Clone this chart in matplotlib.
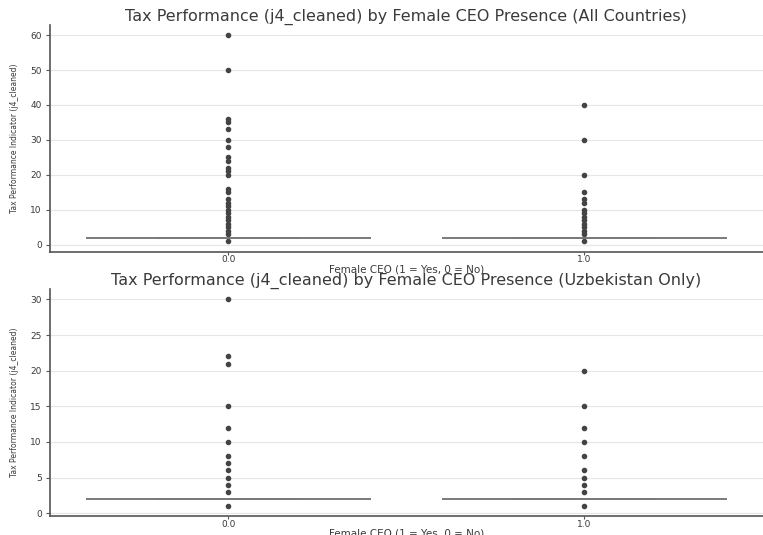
import matplotlib
matplotlib.use("Agg")
import matplotlib.pyplot as plt

# ---------- data ----------
ceo_labels = ["0.0", "1.0"]

# all countries: median / quartiles sit at 2, everything else is an outlier
all_median = [2, 2]
all_fliers_no = [60, 50, 36, 35, 33, 30, 28, 25, 24, 22, 21, 20, 16, 15,
                 13, 12, 11, 10, 9, 8, 7, 6, 5, 4, 3, 1]
all_fliers_yes = [40, 30, 20, 15, 13, 12, 10, 9, 8, 7, 6, 5, 4, 3, 1]

# Uzbekistan only
uz_median = [2, 2]
uz_fliers_no = [30, 22, 21, 15, 12, 10, 8, 7, 6, 5, 4, 3, 1]
uz_fliers_yes = [20, 15, 12, 10, 8, 6, 5, 4, 3, 1]

plt.rcParams["font.family"] = ["DejaVu Sans"]
text_col = "#3a3a3a"


def box_stats(median, fliers):
    return {"med": median, "q1": median, "q3": median,
            "whislo": median, "whishi": median, "fliers": fliers}


def draw(ax, medians, fliers, title):
    stats = [box_stats(m, f) for m, f in zip(medians, fliers)]
    ax.bxp(stats, positions=[0, 1], widths=0.8, patch_artist=True,
           boxprops=dict(facecolor="none", edgecolor="#7a7a7a", linewidth=1.2),
           medianprops=dict(color="#7a7a7a", linewidth=1.2),
           whiskerprops=dict(color="#7a7a7a", linewidth=1.2),
           capprops=dict(color="#7a7a7a", linewidth=1.2),
           flierprops=dict(marker="o", markersize=3.0, markerfacecolor="#444444",
                           markeredgecolor="#444444", linestyle="none"))
    ax.set_xlim(-0.5, 1.5)
    ax.set_xticks([0, 1])
    ax.set_xticklabels(ceo_labels)
    ax.set_title(title, fontsize=11.5, color=text_col, pad=0)
    ax.set_xlabel("Female CEO (1 = Yes, 0 = No)", fontsize=7.5, color=text_col, labelpad=0)
    ax.set_ylabel("Tax Performance Indicator (j4_cleaned)", fontsize=5.5,
                  color=text_col, labelpad=8)
    ax.grid(axis="y", color="#e6e6e6", linewidth=0.8)
    ax.set_axisbelow(True)
    for s in ["top", "right"]:
        ax.spines[s].set_visible(False)
    for s in ["left", "bottom"]:
        ax.spines[s].set_color("#555555")
        ax.spines[s].set_linewidth(1.2)
    ax.tick_params(axis="y", labelsize=6.5, colors="#555555", length=3,
                   labelcolor=text_col, pad=3)
    ax.tick_params(axis="x", labelsize=6.5, colors="#555555", length=2,
                   labelcolor=text_col, pad=0.5)
    ax.margins(y=0.05)


fig = plt.figure(figsize=(7.63, 5.35), dpi=100)
ax1 = fig.add_axes([0.0655, 0.5295, 0.934, 0.4243])
ax2 = fig.add_axes([0.0655, 0.0346, 0.934, 0.4252])

draw(ax1, all_median, [all_fliers_no, all_fliers_yes],
     "Tax Performance (j4_cleaned) by Female CEO Presence (All Countries)")
ax1.set_yticks([0, 10, 20, 30, 40, 50, 60])

draw(ax2, uz_median, [uz_fliers_no, uz_fliers_yes],
     "Tax Performance (j4_cleaned) by Female CEO Presence (Uzbekistan Only)")
ax2.set_yticks([0, 5, 10, 15, 20, 25, 30])

fig.savefig("out.png", dpi=100)
